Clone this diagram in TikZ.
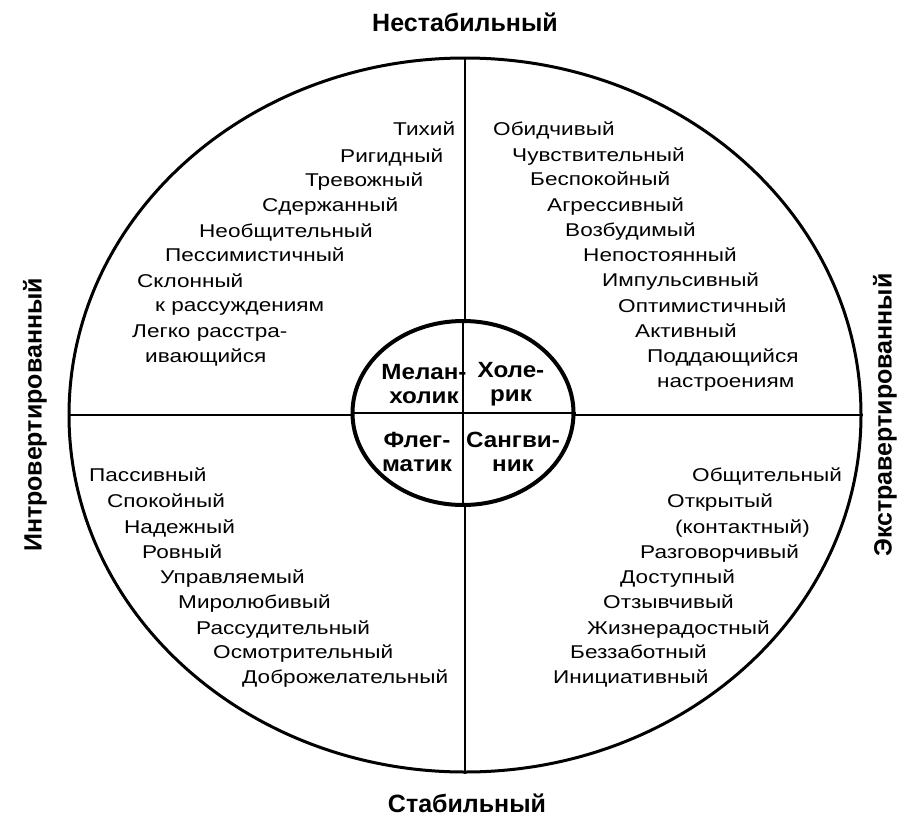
\documentclass[tikz,border=0pt]{standalone}
\usepackage{fontspec}
\setmainfont{Liberation Sans}
\newfontfamily\itemfont{Liberation Sans}[FakeStretch=1.22]
\newfontfamily\typfont{Liberation Sans}[FakeStretch=1.1]
\usetikzlibrary{shapes.geometric}
\tikzset{
  itm/.style={inner sep=0pt, anchor=west, font=\itemfont\fontsize{18.5}{20}\selectfont, text height=13pt, text depth=4pt},
  typ/.style={inner sep=0pt, font=\typfont\bfseries\fontsize{22}{23.5}\selectfont, align=center},
  axislbl/.style={inner sep=0pt, font=\bfseries\fontsize{25}{27}\selectfont},
  ring/.style={draw, ellipse, inner sep=0pt},
}
\begin{document}
\begin{tikzpicture}[x=1pt,y=-1pt]
\useasboundingbox (0,0) rectangle (902,819);
% circles
\node[ring, line width=3pt, minimum width=792pt, minimum height=714pt] (outer) at (465,415) {};
\draw[line width=2.2pt] (outer.north) -- (outer.south);
\draw[line width=2.2pt] (outer.west) -- (outer.east);
\node[ring, line width=4pt, fill=white, minimum width=221pt, minimum height=184pt] (inner) at (463,413) {};
\draw[line width=2.2pt] (inner.north) -- (inner.south);
\draw[line width=2.2pt] (inner.west) -- (inner.east);
% axis labels
\node[axislbl] (unstable) at (465,22) {Нестабильный};
\node[axislbl] (stable) at (467,803) {Стабильный};
\node[axislbl, rotate=90] (intro) at (35,415) {Интровертированный};
\node[axislbl, rotate=90] (extra) at (885,415) {Экстравертированный};
% temperaments
\node[typ] (mel) at (424,384) {Мелан-\\холик};
\node[typ] (chol) at (511,384) {Холе-\\рик};
\node[typ] (phl) at (417,452) {Флег-\\матик};
\node[typ] (sang) at (513,452) {Сангви-\\ник};
% upper left
\node[itm] (a1) at (393,131) {Тихий};
\node[itm] (a2) at (340,158) {Ригидный};
\node[itm] (a3) at (305,182) {Тревожный};
\node[itm] (a4) at (262,207) {Сдержанный};
\node[itm] (a5) at (199,233) {Необщительный};
\node[itm] (a6) at (165,257) {Пессимистичный};
\node[itm] (a7) at (137,283) {Склонный};
\node[itm] (a8) at (155,307) {к рассуждениям};
\node[itm] (a9) at (132,333) {Легко расстра-};
\node[itm] (a10) at (145,358) {ивающийся};
% upper right
\node[itm] (b1) at (493,131) {Обидчивый};
\node[itm] (b2) at (512,157) {Чувствительный};
\node[itm] (b3) at (530,181) {Беспокойный};
\node[itm] (b4) at (547,207) {Агрессивный};
\node[itm] (b5) at (565,232) {Возбудимый};
\node[itm] (b6) at (583,257) {Непостоянный};
\node[itm] (b7) at (602,282) {Импульсивный};
\node[itm] (b8) at (618,308) {Оптимистичный};
\node[itm] (b9) at (635,333) {Активный};
\node[itm] (b10) at (647,358) {Поддающийся};
\node[itm] (b11) at (657,383) {настроениям};
% lower left
\node[itm] (c1) at (89,477) {Пассивный};
\node[itm] (c2) at (107,503) {Спокойный};
\node[itm] (c3) at (124,529) {Надежный};
\node[itm] (c4) at (142,554) {Ровный};
\node[itm] (c5) at (160,579) {Управляемый};
\node[itm] (c6) at (178,604) {Миролюбивый};
\node[itm] (c7) at (196,630) {Рассудительный};
\node[itm] (c8) at (213,654) {Осмотрительный};
\node[itm] (c9) at (242,679) {Доброжелательный};
% lower right
\node[itm] (d1) at (692,477) {Общительный};
\node[itm] (d2) at (667,503) {Открытый};
\node[itm] (d3) at (675,529) {(контактный)};
\node[itm] (d4) at (640,554) {Разговорчивый};
\node[itm] (d5) at (620,579) {Доступный};
\node[itm] (d6) at (603,604) {Отзывчивый};
\node[itm] (d7) at (587,630) {Жизнерадостный};
\node[itm] (d8) at (570,654) {Беззаботный};
\node[itm] (d9) at (553,679) {Инициативный};
\end{tikzpicture}
\end{document}
